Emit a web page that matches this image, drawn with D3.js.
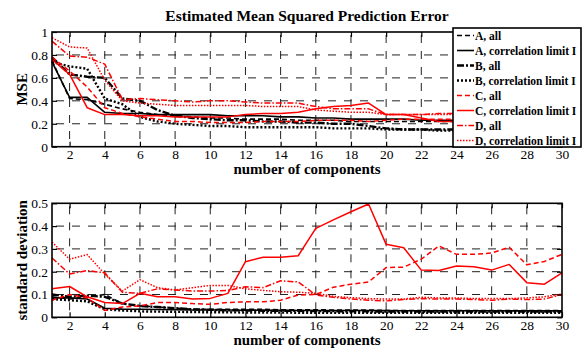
<!DOCTYPE html>
<html>
<head>
<meta charset="utf-8">
<script src="https://cdn.jsdelivr.net/npm/d3@7"></script>
<style>
  body { margin: 0; background: #fff; }
  svg, svg text { font-family: "Liberation Serif", "DejaVu Serif", serif; }
  .tick text { font-size: 13.5px; font-family: "Liberation Serif", serif; }
</style>
</head>
<body>
<svg width="582" height="348"></svg>
<script>
// components 1..30
var comps = d3.range(1, 31);

// top panel: estimated MSE (visible up to 24, rest hidden by legend)
var mseAall  = [0.75,0.42,0.41,0.37,0.33,0.30,0.28,0.27,0.26,0.25,0.25,0.24,0.24,0.24,0.23,0.23,0.23,0.22,0.22,0.22,0.22,0.22,0.22,0.22];
var mseAcorr = [0.74,0.43,0.43,0.30,0.29,0.29,0.28,0.28,0.28,0.28,0.27,0.27,0.27,0.26,0.26,0.25,0.25,0.24,0.24,0.24,0.24,0.23,0.23,0.23];
var mseBall  = [0.78,0.63,0.61,0.60,0.42,0.40,0.32,0.27,0.25,0.24,0.23,0.23,0.22,0.22,0.21,0.21,0.20,0.20,0.18,0.16,0.15,0.15,0.15,0.15];
var mseBcorr = [0.74,0.70,0.68,0.42,0.37,0.26,0.22,0.20,0.19,0.18,0.18,0.17,0.17,0.17,0.17,0.17,0.16,0.16,0.16,0.15,0.15,0.15,0.14,0.14];
var mseCall  = [0.78,0.66,0.52,0.34,0.29,0.26,0.24,0.22,0.22,0.21,0.21,0.21,0.22,0.22,0.22,0.23,0.23,0.23,0.22,0.23,0.24,0.24,0.24,0.24];
var mseCcorr = [0.76,0.63,0.34,0.28,0.28,0.27,0.27,0.26,0.26,0.26,0.26,0.28,0.29,0.29,0.30,0.33,0.35,0.36,0.38,0.28,0.28,0.25,0.22,0.22];
var mseDall  = [0.92,0.79,0.78,0.72,0.41,0.42,0.41,0.40,0.39,0.40,0.40,0.39,0.38,0.38,0.38,0.35,0.33,0.33,0.33,0.28,0.28,0.28,0.29,0.29];
var mseDcorr = [0.95,0.87,0.86,0.58,0.40,0.38,0.37,0.36,0.36,0.36,0.36,0.36,0.35,0.35,0.35,0.32,0.31,0.30,0.30,0.28,0.28,0.28,0.28,0.28];

// bottom panel: standard deviation
var sdAall  = [0.090,0.080,0.090,0.100,0.060,0.050,0.045,0.040,0.035,0.035,0.035,0.035,0.035,0.033,0.033,0.033,0.032,0.032,0.032,0.030,0.030,0.030,0.030,0.030,0.030,0.030,0.030,0.030,0.030,0.030];
var sdAcorr = [0.085,0.085,0.080,0.040,0.036,0.035,0.034,0.033,0.032,0.032,0.032,0.031,0.031,0.031,0.030,0.030,0.030,0.030,0.030,0.030,0.029,0.029,0.029,0.029,0.029,0.029,0.028,0.028,0.028,0.028];
var sdBall  = [0.100,0.090,0.095,0.090,0.060,0.050,0.045,0.040,0.035,0.033,0.031,0.030,0.029,0.028,0.028,0.027,0.027,0.026,0.026,0.025,0.025,0.025,0.025,0.025,0.025,0.025,0.025,0.025,0.025,0.025];
var sdBcorr = [0.080,0.075,0.070,0.035,0.030,0.026,0.025,0.024,0.023,0.022,0.022,0.021,0.021,0.021,0.020,0.020,0.020,0.020,0.020,0.020,0.020,0.020,0.020,0.020,0.020,0.020,0.020,0.020,0.020,0.020];
var sdCall  = [0.075,0.100,0.085,0.030,0.045,0.050,0.065,0.065,0.060,0.057,0.065,0.068,0.068,0.075,0.098,0.100,0.132,0.145,0.155,0.218,0.220,0.255,0.313,0.276,0.276,0.282,0.307,0.230,0.245,0.276];
var sdCcorr = [0.125,0.135,0.090,0.065,0.060,0.105,0.090,0.090,0.080,0.083,0.105,0.244,0.263,0.263,0.270,0.390,0.427,0.463,0.497,0.320,0.305,0.207,0.205,0.225,0.222,0.207,0.232,0.152,0.145,0.195];
var sdDall  = [0.260,0.190,0.205,0.195,0.110,0.105,0.125,0.120,0.115,0.115,0.118,0.134,0.130,0.160,0.155,0.098,0.088,0.080,0.075,0.072,0.078,0.082,0.080,0.080,0.078,0.075,0.080,0.078,0.080,0.100];
var sdDcorr = [0.330,0.255,0.275,0.190,0.115,0.165,0.130,0.120,0.130,0.140,0.140,0.125,0.118,0.112,0.110,0.105,0.092,0.086,0.082,0.080,0.080,0.088,0.085,0.085,0.082,0.082,0.082,0.085,0.090,0.102];

var names = ["A, all", "A, correlation limit I", "B, all", "B, correlation limit I",
             "C, all", "C, correlation limit I", "D, all", "D, correlation limit I"];
var xTicks = d3.range(2, 31, 2);
var mseTicks = [0, 0.2, 0.4, 0.6, 0.8, 1];
var sdTicks = [0, 0.1, 0.2, 0.3, 0.4, 0.5];

var styles = [
  {color: "#000", dash: "5,3",       width: 1.6},
  {color: "#000", dash: null,        width: 1.6},
  {color: "#000", dash: "7,2,2,2",   width: 2.4},
  {color: "#000", dash: "2,2",       width: 2.4},
  {color: "#f00", dash: "5,3",       width: 1.5},
  {color: "#f00", dash: null,        width: 1.5},
  {color: "#f00", dash: "6,2,1.5,2", width: 1.5},
  {color: "#f00", dash: "1.5,1.5",   width: 1.5}
];

var svg = d3.select("svg");
var left = 52, right = 562;

var x = d3.scaleLinear().domain([1, 30]).range([left, right]);

function panel(top, bottom, yTicks, yMax, series, title, ylab, xlabY) {
  var y = d3.scaleLinear().domain([0, yMax]).range([bottom, top]);
  var g = svg.append("g");

  // dashed grid
  g.selectAll(".vg").data(xTicks.filter(function(d) { return d < 30; })).enter().append("line")
    .attr("x1", function(d) { return x(d); }).attr("x2", function(d) { return x(d); })
    .attr("y1", top).attr("y2", bottom)
    .attr("stroke", "#222").attr("stroke-width", 1).attr("stroke-dasharray", "8,8")
    .attr("stroke-dashoffset", -3);
  g.selectAll(".hg").data(yTicks.filter(function(d) { return d > 0 && d < yMax; })).enter().append("line")
    .attr("x1", left).attr("x2", right)
    .attr("y1", function(d) { return y(d); }).attr("y2", function(d) { return y(d); })
    .attr("stroke", "#222").attr("stroke-width", 1).attr("stroke-dasharray", "8,8")
    .attr("stroke-dashoffset", -4);

  var line = d3.line()
    .x(function(d, i) { return x(comps[i]); })
    .y(function(d) { return y(d); });

  series.forEach(function(s, i) {
    g.append("path")
      .datum(s)
      .attr("fill", "none")
      .attr("stroke", styles[i].color)
      .attr("stroke-width", styles[i].width)
      .attr("stroke-dasharray", styles[i].dash)
      .attr("stroke-linejoin", "round")
      .attr("d", line);
  });

  // axes with inward ticks
  var ax = function(a) { return a.tickSizeInner(-5).tickSizeOuter(0); };
  g.append("g").attr("transform", "translate(0," + bottom + ")")
    .call(ax(d3.axisBottom(x).tickValues(xTicks)).tickPadding(3));
  g.append("g").attr("transform", "translate(0," + top + ")")
    .call(ax(d3.axisTop(x).tickValues(xTicks)).tickFormat(""));
  g.append("g").attr("transform", "translate(" + left + ",0)")
    .call(ax(d3.axisLeft(y).tickValues(yTicks)).tickFormat(d3.format("~g")).tickPadding(4));
  g.append("g").attr("transform", "translate(" + right + ",0)")
    .call(ax(d3.axisRight(y).tickValues(yTicks)).tickFormat(""));
  g.selectAll(".domain").remove();
  g.selectAll(".tick line").attr("stroke-width", 1.2);
  g.selectAll(".tick text").attr("font-family", "Liberation Serif").attr("font-size", 13.5);

  g.append("rect")
    .attr("x", left).attr("y", top).attr("width", right - left).attr("height", bottom - top)
    .attr("fill", "none").attr("stroke", "#000").attr("stroke-width", 1.6);

  if (title) {
    g.append("text").attr("x", (left + right) / 2).attr("y", top - 11)
      .attr("text-anchor", "middle").attr("font-weight", "bold").attr("font-size", 15.5)
      .text(title);
  }
  g.append("text").attr("x", (left + right) / 2).attr("y", xlabY)
    .attr("text-anchor", "middle").attr("font-weight", "bold").attr("font-size", 15)
    .text("number of components");
  g.append("text")
    .attr("transform", "translate(27," + ((top + bottom) / 2) + ") rotate(-90)")
    .attr("text-anchor", "middle").attr("font-weight", "bold").attr("font-size", 15)
    .text(ylab);
}

var mseSeries = [mseAall, mseAcorr, mseBall, mseBcorr, mseCall, mseCcorr, mseDall, mseDcorr];
var sdSeries = [sdAall, sdAcorr, sdBall, sdBcorr, sdCall, sdCcorr, sdDall, sdDcorr];

panel(32, 146.7, mseTicks, 1, mseSeries, "Estimated Mean Squared Prediction Error", "MSE", 174);
panel(203.3, 317.3, sdTicks, 0.5, sdSeries, null, "standard deviation", 345);

// legend
var lg = svg.append("g").attr("transform", "translate(453,28)");
lg.append("rect").attr("width", 128).attr("height", 119)
  .attr("fill", "#fff").attr("stroke", "#000").attr("stroke-width", 1.6);
var item = lg.selectAll(".item").data(names).enter().append("g")
  .attr("transform", function(d, i) { return "translate(0," + (7.5 + i * 15) + ")"; });
item.append("line").attr("x1", 4).attr("x2", 21).attr("y1", 0).attr("y2", 0)
  .attr("stroke", function(d, i) { return styles[i].color; })
  .attr("stroke-width", function(d, i) { return styles[i].width; })
  .attr("stroke-dasharray", function(d, i) { return styles[i].dash; });
item.append("text").attr("x", 22).attr("y", 4)
  .attr("font-weight", "bold").attr("font-size", 11.5)
  .text(function(d) { return d; });
</script>
</body>
</html>
